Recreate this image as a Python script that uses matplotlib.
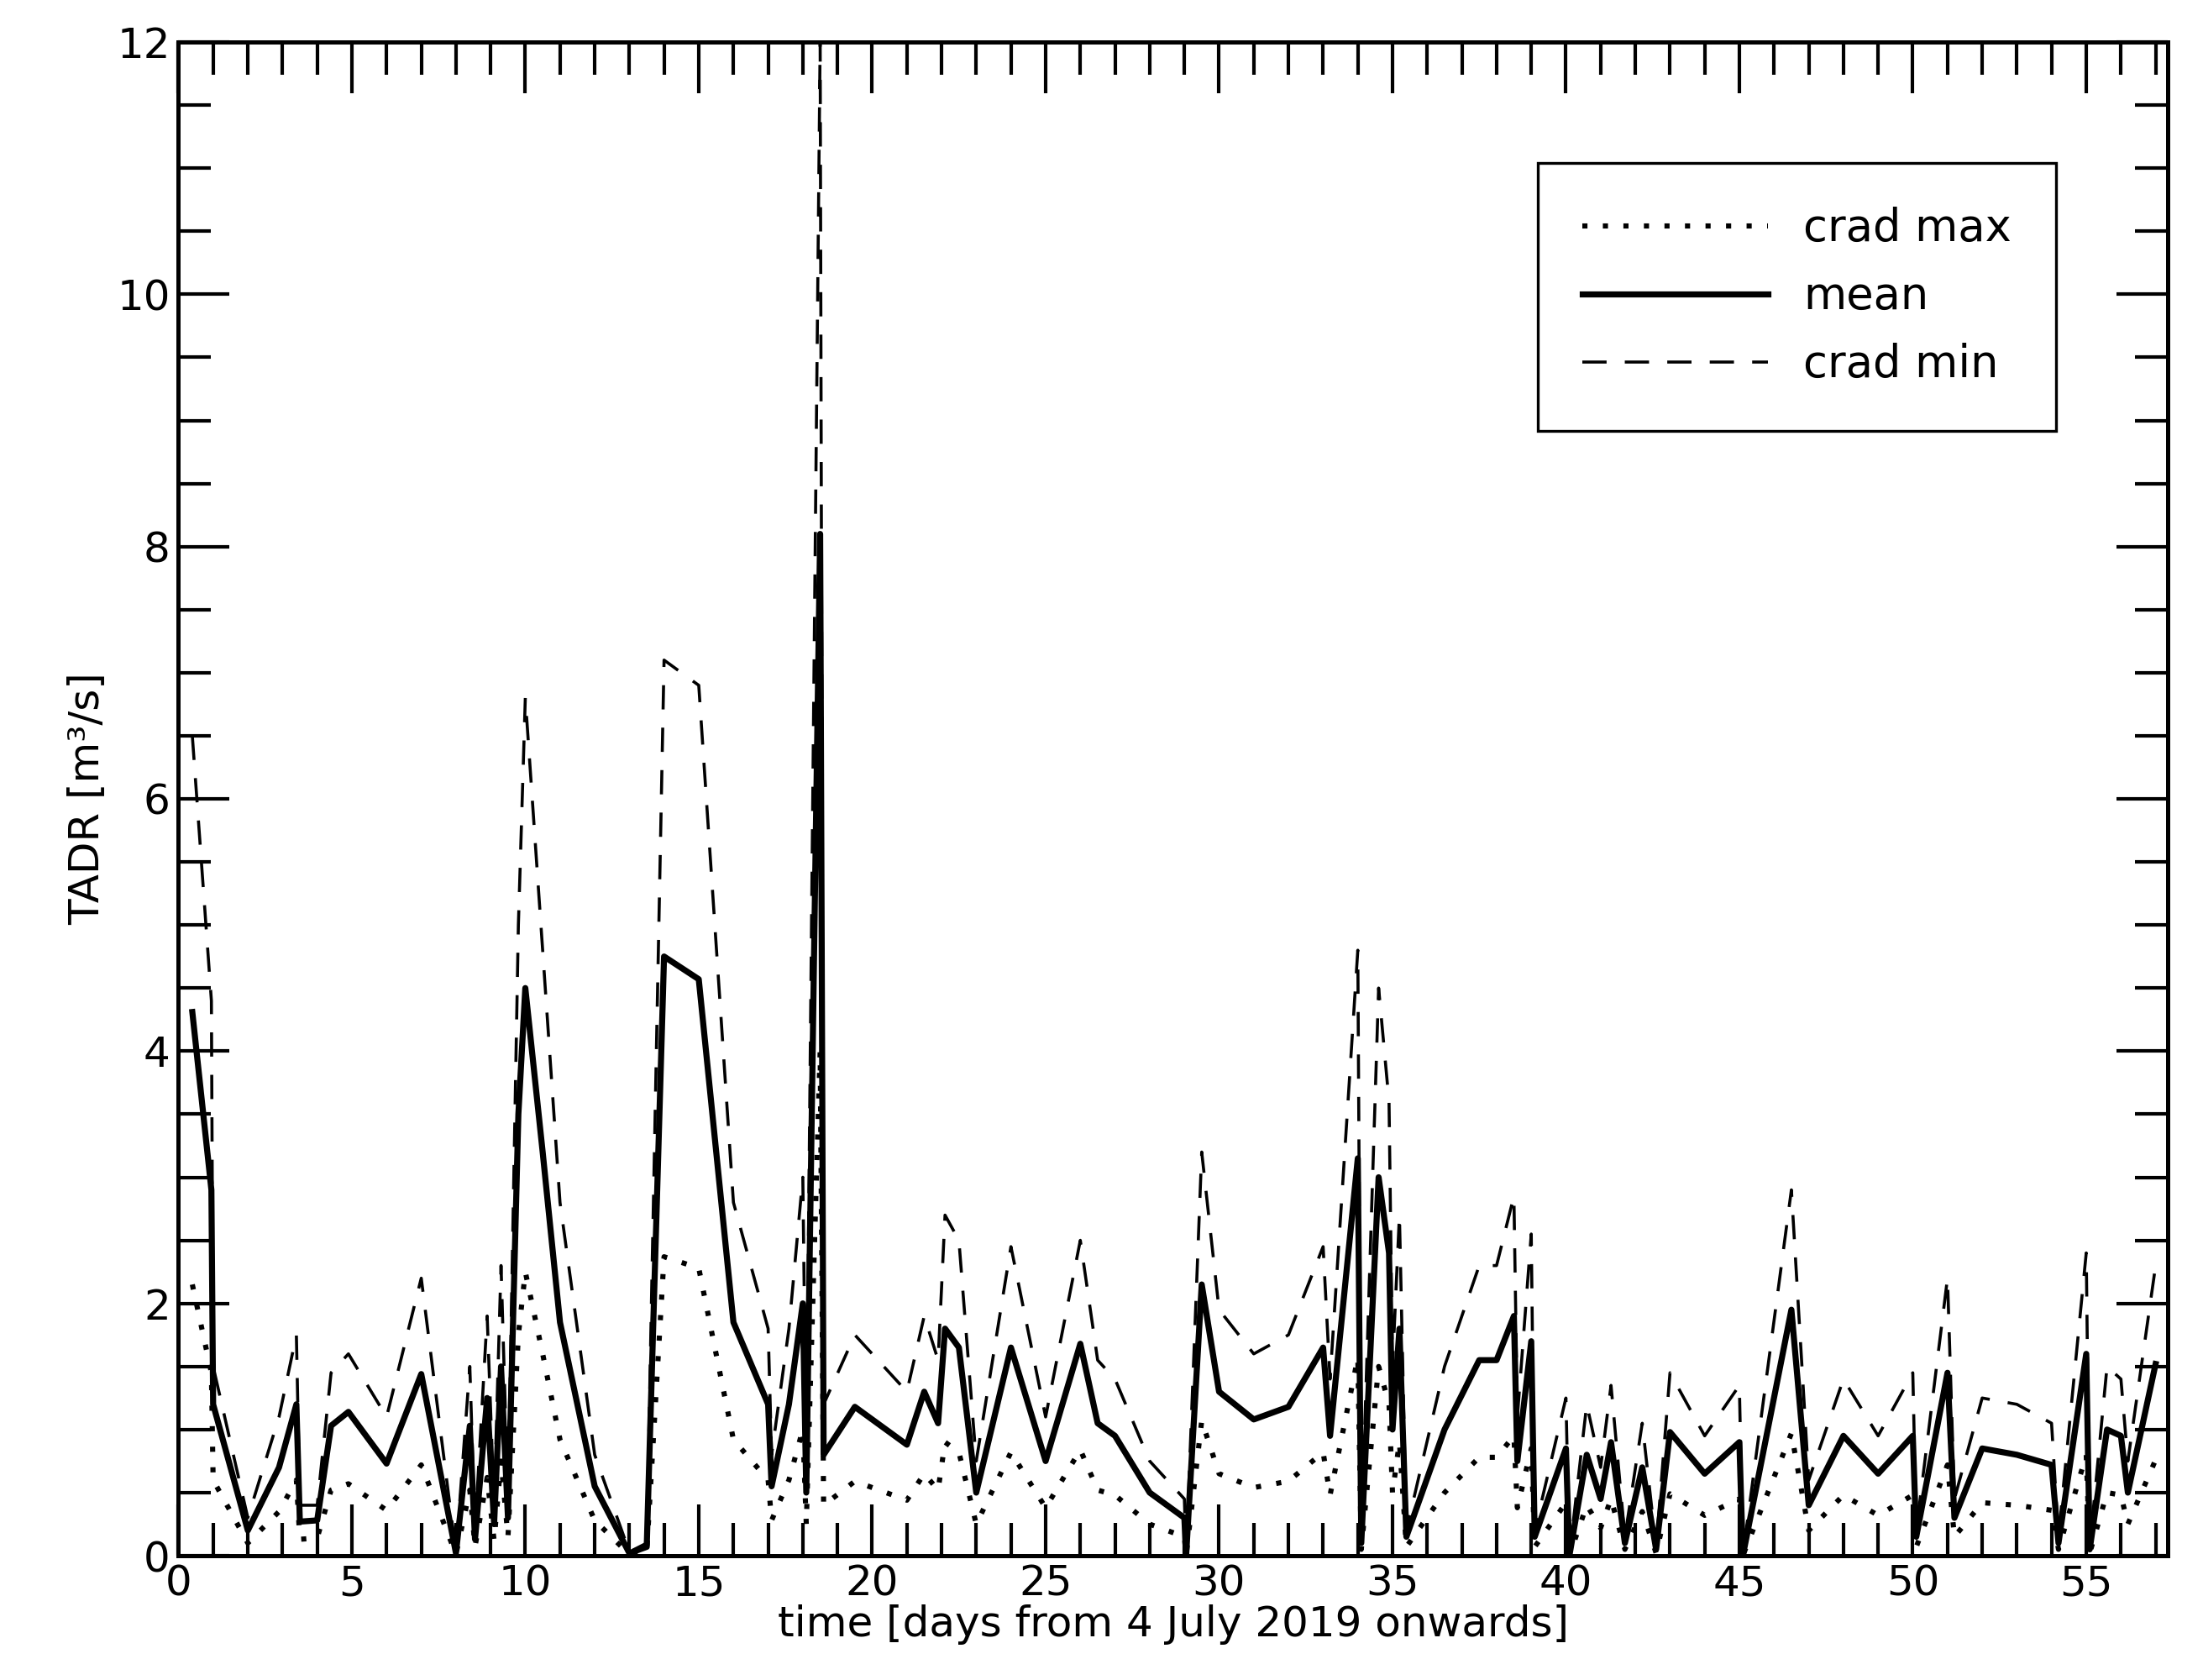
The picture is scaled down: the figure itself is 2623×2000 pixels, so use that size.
import matplotlib
matplotlib.use("Agg")
import matplotlib.pyplot as plt
from matplotlib.ticker import MultipleLocator

days = [0.4,0.95,1.0,2.0,2.9,3.4,3.5,4.0,4.4,4.9,6.0,7.0,8.0,8.4,8.55,8.9,9.1,9.3,9.5,9.8,10.0,10.5,11.0,12.0,13.0,13.5,14.0,15.0,16.0,17.0,17.1,17.6,18.0,18.1,18.5,18.6,19.5,21.0,21.5,21.9,22.1,22.5,23.0,24.0,25.0,26.0,26.5,27.0,28.0,29.0,29.05,29.5,30.0,31.0,32.0,33.0,33.2,34.0,34.1,34.6,34.9,35.0,35.2,35.4,36.5,37.5,38.0,38.5,38.6,39.0,39.1,40.0,40.1,40.6,41.0,41.3,41.7,42.2,42.6,43.0,44.0,45.0,45.1,46.5,47.0,48.0,49.0,50.0,50.1,51.0,51.2,52.0,53.0,54.0,54.2,55.0,55.1,55.6,56.0,56.2,57.0]
mean = [4.31,2.9,1.2,0.2,0.7,1.2,0.27,0.28,1.03,1.14,0.73,1.44,0.02,1.03,0.13,1.25,0.25,1.5,0.3,3.5,4.5,3.2,1.85,0.55,0.02,0.07,4.75,4.57,1.85,1.2,0.55,1.2,2.0,0.5,8.1,0.8,1.18,0.88,1.3,1.05,1.8,1.65,0.5,1.65,0.75,1.68,1.05,0.95,0.5,0.3,0.0,2.15,1.3,1.08,1.18,1.65,0.95,3.15,0.1,3.0,2.4,1.0,1.8,0.15,1.0,1.55,1.55,1.9,0.75,1.7,0.15,0.85,0.0,0.8,0.45,0.9,0.1,0.7,0.05,0.98,0.65,0.9,0.0,1.95,0.4,0.95,0.65,0.95,0.15,1.45,0.3,0.85,0.8,0.72,0.1,1.6,0.05,1.0,0.95,0.5,1.52]
crad_min = [6.5,4.4,1.5,0.3,1.1,1.75,0.4,0.4,1.45,1.6,1.1,2.2,0.02,1.5,0.2,1.9,0.4,2.3,0.45,5.0,6.8,4.8,2.8,0.8,0.03,0.1,7.1,6.9,2.8,1.8,0.8,1.8,3.0,0.75,12.0,1.2,1.75,1.3,1.9,1.55,2.7,2.5,0.75,2.45,1.1,2.5,1.55,1.4,0.75,0.45,0.0,3.2,1.95,1.6,1.75,2.45,1.4,4.8,0.15,4.5,3.6,1.5,2.7,0.2,1.5,2.3,2.3,2.85,1.1,2.55,0.2,1.25,0.0,1.2,0.7,1.35,0.15,1.05,0.07,1.45,0.95,1.35,0.0,2.9,0.6,1.4,0.95,1.45,0.2,2.2,0.45,1.25,1.2,1.05,0.15,2.4,0.07,1.5,1.4,0.75,2.3]
crad_max = [2.15,1.45,0.6,0.1,0.35,0.6,0.13,0.14,0.52,0.57,0.36,0.72,0.01,0.52,0.07,0.62,0.12,0.75,0.15,1.75,2.25,1.6,0.92,0.28,0.01,0.03,2.37,2.28,0.92,0.6,0.28,0.6,1.0,0.25,4.0,0.4,0.59,0.44,0.65,0.52,0.9,0.82,0.25,0.82,0.38,0.84,0.52,0.48,0.25,0.15,0.0,1.07,0.65,0.54,0.59,0.82,0.48,1.57,0.05,1.5,1.2,0.5,0.9,0.07,0.5,0.78,0.78,0.95,0.38,0.85,0.07,0.42,0.0,0.4,0.22,0.45,0.05,0.35,0.02,0.49,0.32,0.45,0.0,0.97,0.2,0.48,0.32,0.48,0.07,0.72,0.15,0.42,0.4,0.36,0.05,0.8,0.02,0.5,0.48,0.25,0.76]

fig = plt.figure(figsize=(13.115, 10), dpi=200)
ax = fig.add_axes([0.081, 0.074, 0.903, 0.901])
ax.plot(days, crad_max, color='k', ls=(0, (1, 3)), lw=2.2, label='crad max')
ax.plot(days, mean, color='k', ls='-', lw=2.6, label='mean')
ax.plot(days, crad_min, color='k', ls=(0, (8, 6)), lw=1.3, label='crad min')
ax.set_xlim(0, 57.35)
ax.set_ylim(0, 12)
ax.xaxis.set_major_locator(MultipleLocator(5))
ax.xaxis.set_minor_locator(MultipleLocator(1))
ax.yaxis.set_major_locator(MultipleLocator(2))
ax.yaxis.set_minor_locator(MultipleLocator(0.5))
ax.tick_params(which='both', direction='in', top=True, right=True, labelsize=18, width=1.5)
ax.tick_params(which='major', length=22)
ax.tick_params(which='minor', length=14)
for s in ax.spines.values():
    s.set_linewidth(1.8)
ax.set_xlabel('time [days from 4 July 2019 onwards]', fontsize=18, labelpad=0)
ax.set_ylabel('TADR [m³/s]', fontsize=18)
leg = ax.legend(loc='upper right', bbox_to_anchor=(0.955, 0.935), fontsize=19, fancybox=False,
                framealpha=1, edgecolor='k', handlelength=4.2, borderpad=1.0, labelspacing=0.55)
leg.get_frame().set_linewidth(1.2)
fig.savefig('out.png', dpi=200)
